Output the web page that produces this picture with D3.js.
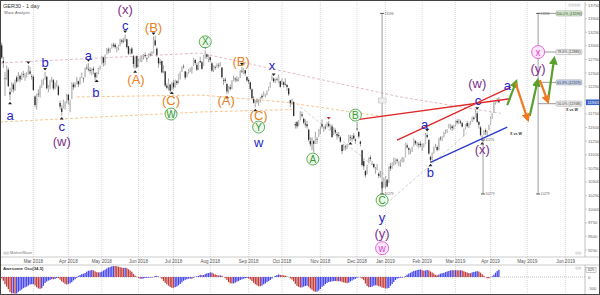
<!DOCTYPE html>
<html>
<head>
<meta charset="utf-8">
<script src="https://cdn.jsdelivr.net/npm/d3@7"></script>
<style>
  body { margin: 0; background: #fff; }
  svg { display: block; font-family: "Liberation Sans", Arial, sans-serif; }
</style>
</head>
<body>
<svg id="chart" width="600" height="295"></svg>
<script>
// GER30 daily candles [open, high, low, close], one array per month
var feb18 = [[13190,13240,12970,13004],[13010,13060,12760,12785],[12720,12800,12590,12687],[12400,12520,12080,12392],[12430,12640,12380,12590],[12560,12600,12240,12260],[12150,12230,12000,12107],[12200,12330,12150,12282],[12290,12320,12140,12197],[12190,12380,12170,12339],[12420,12450,12320,12346],[12370,12520,12350,12452],[12450,12470,12330,12385],[12400,12510,12370,12488],[12480,12540,12420,12470],[12430,12500,12360,12461],[12470,12520,12420,12483],[12510,12640,12470,12527],[12530,12620,12470,12490],[12440,12480,12380,12436]];
var mar18 = [[12430,12460,12170,12190],[12070,12090,11870,11913],[11960,12120,11830,12090],[12120,12200,12060,12114],[12100,12270,12050,12245],[12280,12380,12230,12355],[12330,12400,12280,12346],[12400,12520,12380,12418],[12430,12450,12200,12221],[12200,12280,12150,12237],[12250,12380,12200,12345],[12350,12430,12330,12389],[12370,12390,12180,12217],[12230,12330,12200,12307],[12300,12370,12240,12309],[12250,12280,12080,12100],[11950,11990,11830,11886],[11850,11910,11720,11787],[11880,12010,11850,11970],[11890,11980,11830,11940],[11960,12120,11940,12096]];
var apr18 = [[12100,12120,11920,12002],[11900,12010,11780,11957],[12030,12330,12020,12305],[12290,12330,12190,12241],[12270,12330,12230,12261],[12300,12430,12290,12397],[12350,12360,12240,12294],[12310,12430,12290,12415],[12440,12510,12410,12442],[12400,12420,12320,12391],[12430,12600,12420,12586],[12600,12660,12560,12590],[12570,12680,12530,12567],[12560,12610,12490,12540],[12530,12590,12460,12572],[12580,12620,12480,12550],[12500,12520,12330,12422],[12450,12520,12410,12500],[12510,12600,12480,12580],[12590,12640,12560,12612]];
var may18 = [[12680,12820,12660,12802],[12790,12800,12620,12690],[12700,12840,12640,12820],[12850,12960,12840,12949],[12930,12970,12860,12912],[12900,12960,12870,12943],[12970,13040,12950,13022],[13020,13060,12970,13001],[13020,13050,12950,12977],[12960,12990,12880,12970],[12960,13020,12920,12996],[13010,13130,12990,13114],[13100,13130,13040,13077],[13090,13140,13050,13080],[13100,13210,13080,13169],[13120,13130,12950,12977],[12990,13000,12830,12855],[12880,12950,12840,12938],[12950,12980,12840,12863],[12810,12830,12600,12666],[12600,12800,12580,12783],[12810,12820,12590,12605]];
var jun18 = [[12650,12760,12620,12724],[12760,12800,12700,12770],[12760,12820,12700,12787],[12810,12850,12750,12830],[12830,12880,12780,12811],[12770,12790,12700,12766],[12800,12860,12780,12842],[12850,12880,12800,12842],[12850,12900,12820,12890],[12880,13170,12860,13107],[13100,13190,12990,13010],[12950,12970,12800,12834],[12780,12790,12600,12677],[12700,12760,12650,12695],[12720,12730,12490,12512],[12540,12640,12500,12579],[12530,12540,12240,12270],[12270,12310,12200,12229],[12250,12400,12180,12348],[12290,12300,12120,12177],[12200,12340,12190,12306]];
var jul18 = [[12320,12380,12200,12238],[12260,12380,12230,12349],[12350,12370,12280,12317],[12350,12480,12310,12465],[12460,12530,12380,12496],[12530,12620,12520,12610],[12620,12660,12580,12609],[12530,12540,12380,12417],[12450,12520,12420,12492],[12520,12570,12490,12540],[12560,12600,12520,12561],[12550,12620,12490,12600],[12640,12780,12630,12765],[12740,12760,12650,12686],[12650,12690,12540,12561],[12590,12700,12560,12689],[12720,12800,12690,12697],[12700,12720,12560,12579],[12650,12830,12630,12809],[12830,12920,12760,12860],[12840,12860,12760,12799],[12760,12840,12700,12806]];
var aug18 = [[12790,12800,12700,12737],[12680,12700,12520,12546],[12560,12640,12520,12615],[12610,12640,12560,12598],[12620,12680,12600,12648],[12640,12680,12590,12634],[12630,12700,12620,12676],[12600,12610,12400,12424],[12370,12410,12280,12358],[12380,12420,12320,12358],[12300,12310,12110,12163],[12170,12260,12130,12237],[12240,12290,12180,12210],[12220,12370,12200,12358],[12380,12450,12350,12384],[12400,12420,12330,12385],[12380,12440,12340,12365],[12370,12420,12350,12394],[12420,12560,12410,12538],[12540,12610,12500,12527],[12520,12590,12480,12562],[12550,12560,12450,12494],[12430,12440,12340,12364]];
var sep18 = [[12370,12400,12300,12346],[12330,12340,12180,12210],[12200,12220,12020,12040],[12020,12080,11940,11955],[11920,12000,11870,11959],[11990,12040,11940,11987],[11960,12010,11900,11970],[11990,12060,11960,12032],[12080,12120,12020,12055],[12090,12160,12070,12124],[12080,12120,12050,12096],[12110,12180,12090,12157],[12190,12250,12170,12219],[12260,12340,12230,12326],[12380,12460,12360,12431],[12400,12420,12320,12350],[12360,12400,12320,12374],[12390,12420,12350,12385],[12330,12470,12310,12436],[12350,12360,12230,12246]];
var oct18 = [[12300,12400,12280,12346],[12330,12350,12230,12287],[12300,12400,12270,12287],[12280,12300,12180,12244],[12220,12230,12080,12111],[12000,12010,11870,11947],[11970,12030,11920,11977],[11970,11980,11700,11712],[11560,11600,11480,11539],[11600,11620,11480,11523],[11560,11640,11520,11614],[11650,11800,11630,11777],[11740,11790,11680,11715],[11660,11680,11560,11589],[11570,11650,11500,11553],[11560,11620,11480,11524],[11460,11480,11240,11274],[11250,11320,11150,11191],[11130,11320,11080,11307],[11250,11270,11040,11201],[11220,11420,11200,11336],[11290,11330,11200,11287],[11350,11470,11330,11447]];
var nov18 = [[11460,11520,11380,11468],[11560,11650,11480,11519],[11460,11520,11420,11495],[11500,11560,11460,11484],[11520,11600,11500,11579],[11570,11620,11500,11527],[11480,11550,11450,11529],[11520,11560,11310,11325],[11380,11500,11360,11472],[11450,11480,11380,11412],[11380,11420,11280,11353],[11360,11420,11310,11341],[11320,11340,11220,11244],[11180,11190,11010,11066],[11100,11200,11080,11139],[11150,11180,11080,11138],[11120,11200,11100,11192],[11240,11370,11230,11354],[11320,11360,11260,11309],[11300,11360,11240,11299],[11350,11400,11280,11298],[11280,11300,11200,11257]];
var dec18 = [[11480,11600,11440,11465],[11420,11430,11300,11335],[11240,11260,11150,11200],[11080,11090,10780,10811],[10880,10920,10720,10788],[10700,10720,10580,10622],[10650,10820,10640,10780],[10850,10950,10840,10931],[10950,10990,10880,10924],[10840,10880,10810,10865],[10830,10840,10750,10772],[10720,10770,10650,10740],[10740,10830,10720,10766],[10650,10680,10570,10611],[10630,10700,10580,10634],[10500,10510,10280,10382],[10420,10580,10400,10559]];
var jan19 = [[10500,10600,10380,10580],[10540,10560,10400,10416],[10500,10780,10480,10768],[10790,10850,10700,10747],[10760,10860,10740,10804],[10840,10950,10800,10894],[10860,10930,10820,10921],[10910,10930,10840,10887],[10830,10880,10790,10856],[10860,10910,10780,10892],[10880,10960,10860,10931],[10910,10950,10860,10918],[10960,11220,10950,11205],[11170,11210,11110,11136],[11120,11140,11000,11090],[11070,11100,11010,11071],[11100,11150,11050,11130],[11170,11300,11150,11281],[11250,11270,11180,11210],[11200,11240,11150,11218],[11200,11230,11120,11181],[11200,11250,11140,11173]];
var feb19 = [[11120,11210,11070,11180],[11170,11210,11130,11176],[11200,11400,11190,11367],[11360,11400,11300,11324],[11270,11290,11000,11022],[10960,10980,10860,10906],[10940,11040,10900,11014],[11030,11150,11020,11126],[11150,11200,11130,11167],[11140,11170,11060,11089],[11100,11310,11080,11299],[11310,11340,11260,11299],[11300,11340,11250,11309],[11330,11420,11320,11401],[11400,11460,11380,11423],[11430,11470,11400,11457],[11500,11570,11480,11505],[11520,11560,11460,11540],[11520,11550,11440,11487],[11510,11550,11460,11515]];
var mar19 = [[11540,11620,11520,11601],[11620,11650,11560,11592],[11600,11660,11560,11620],[11610,11640,11560,11588],[11580,11600,11500,11517],[11450,11480,11340,11457],[11490,11560,11470,11543],[11580,11620,11500,11524],[11520,11590,11490,11572],[11570,11620,11550,11587],[11620,11700,11600,11686],[11680,11710,11630,11657],[11690,11830,11680,11788],[11760,11800,11580,11603],[11600,11620,11480,11550],[11500,11530,11340,11364],[11310,11360,11260,11346],[11380,11450,11360,11419],[11450,11480,11360,11419],[11380,11440,11330,11428],[11460,11550,11450,11526]];
var apr19 = [[11560,11700,11550,11681],[11690,11770,11660,11754],[11780,11970,11770,11954],[11950,12000,11920,11988],[11990,12040,11960,12010],[12000,12060,11950,11963]];

// median prices of the 33 sessions before the first bar (Awesome Osc warm-up)
var warmupMedian = [13125,13068,13103,13312,13215,13069,13110,13072,13070,12979,12917,12871,12978,13167,13319,13367,13385,13281,13202,13245,13200,13183,13184,13281,13434,13463,13559,13414,13298,13340,13324,13197,13189];

var monthTickLabels = ["Mar 2018","Apr 2018","May 2018","Jun 2018","Jul 2018","Aug 2018","Sep 2018","Oct 2018","Nov 2018","Dec 2018","Jan 2019","Feb 2019","Mar 2019","Apr 2019","May 2019","Jun 2019"];
var futureMonthDays = [22, 23];   // weekdays of Apr 2019 and May 2019
var priceTicks = [9250,9500,9750,10000,10250,10500,10750,11000,11250,11500,11750,12000,12250,12500,12750,13000,13250,13500,13750];

// wave labels: text, bar index, price, style
var waveLabels = [
  ["(x)", 75, 13676, "purple"], ["c", 75, 13382, "blue"], ["(B)", 92, 13346, "orange"],
  ["b", 27, 12702, "blue"], ["a", 53, 12831, "blue"], ["b", 57.5, 12151, "blue"],
  ["(A)", 81.5, 12390, "orange"], ["(C)", 102.5, 12004, "orange"], ["W", 102.5, 11747, "green"],
  ["a", 6, 11728, "blue"], ["c", 37, 11526, "blue"], ["(w)", 37, 11250, "purple"],
  ["X", 123, 13074, "green"], ["(B)", 144.5, 12721, "orange"], ["(A)", 135.5, 12004, "orange"],
  ["x", 163, 12636, "blue"], ["(C)", 155, 11728, "orange"], ["Y", 155, 11508, "green"],
  ["w", 155, 11232, "blue"], ["A", 187.5, 10920, "green"], ["B", 213, 11728, "green"],
  ["C", 229, 10166, "green"], ["y", 229, 9854, "blue"], ["(y)", 229, 9560, "purple"],
  ["w", 229, 9284, "pink"], ["a", 254.5, 11563, "blue"], ["b", 258, 10681, "blue"],
  ["c", 286.5, 12004, "blue"], ["(w)", 286, 12316, "purple"], ["(x)", 289, 11103, "purple"],
  ["a", 304, 12280, "blue"], ["(y)", 322.5, 12592, "purple"], ["x", 322.5, 12886, "pink"]
];
var pivotHighs = [17, 27, 53, 75, 92, 123, 145, 164, 197, 214, 256, 286];
var pivotLows = [6, 37, 58, 81, 103, 136, 153, 188, 210, 229, 258, 289];

// Fibonacci of W: 13596 -> 10279
var fibHigh = 13596, fibLow = 10279;
var fibLevels = [0.5, 0.618, 0.786, 1.0];
// vertical measure lines: index, top price, bottom price
var measureLines = [[229, 13596, 10279], [289.5, 11270, 10279], [322.5, 13596, 10279]];

// channel lines [[index, price], [index, price]]
var redLines = [[[213, 11640], [306, 12030]], [[238, 11270], [306, 12240]]];
var blueLines = [[[258, 10860], [304, 11508]]];
var greenArrows = [[[304, 11912], [309, 12316]], [[317.5, 11710], [322, 12335]], [[328.5, 12004], [332, 12740]]];
var orangeArrows = [[[309, 12316], [316, 11673]], [[323.5, 12372], [328, 12004]]];
// faint dashed guides (averages / old trend lines)
var dashedGuides = [
  [[[0, 12685], [120, 12868], [240, 12060], [300, 11760]], "#d8a8c0"],
  [[[46, 12060], [120, 12097], [170, 11968], [230, 11700]], "#f2b878"],
  [[[0, 11601], [120, 11785], [175, 11830]], "#f2b878"],
  [[[180, 11877], [232, 10591]], "#c4c4c4"],
  [[[234, 10168], [280, 11399]], "#c4c4c4"]
];

var svg = d3.select("#chart");
var x = d3.scaleLinear().domain([0, 350]).range([0, 584]);
var y = d3.scaleLinear().domain([9250, 13750]).range([250, 5]);
var yo = d3.scaleLinear().domain([-500, 0]).range([288, 277]);
var plotRight = 585, mainTop = 2, mainBottom = 257, oscTop = 265;

var colors = { blue: "#2626c4", purple: "#7d2f8c", orange: "#e8801e", green: "#3a9a3a", pink: "#e040d0" };

var bars = [].concat(feb18, mar18, apr18, may18, jun18, jul18, aug18, sep18, oct18, nov18, dec18, jan19, feb19, mar19, apr19);
var pastMonths = [feb18, mar18, apr18, may18, jun18, jul18, aug18, sep18, oct18, nov18, dec18, jan19, feb19, mar19];

// tick positions: first trading day of each month
var tickIndex = [];
var acc = 0;
pastMonths.forEach(function(m) { acc += m.length; tickIndex.push(acc); });
futureMonthDays.forEach(function(n) { acc += n; tickIndex.push(acc); });

var defs = svg.append("defs");
defs.append("clipPath").attr("id", "mainClip")
  .append("rect").attr("x", 0).attr("y", mainTop).attr("width", plotRight).attr("height", mainBottom - mainTop);
[["arrG", "#5aa02c"], ["arrO", "#f07820"]].forEach(function(m) {
  defs.append("marker").attr("id", m[0]).attr("viewBox", "0 0 10 10")
    .attr("refX", 5).attr("refY", 5).attr("markerWidth", 4).attr("markerHeight", 4).attr("orient", "auto")
    .append("path").attr("d", "M0,0L10,5L0,10z").attr("fill", m[1]);
});

// month grid
svg.append("g").selectAll("line").data(tickIndex).join("line")
  .attr("x1", function(d) { return x(d); }).attr("x2", function(d) { return x(d); })
  .attr("y1", mainTop).attr("y2", 295)
  .attr("stroke", "#c8c8c8").attr("stroke-width", 0.7).attr("stroke-dasharray", "1,1");

// dashed guides
var line = d3.line().x(function(p) { return x(p[0]); }).y(function(p) { return y(p[1]); });
svg.append("g").attr("clip-path", "url(#mainClip)").selectAll("path").data(dashedGuides).join("path")
  .attr("d", function(d) { return line(d[0]); }).attr("fill", "none")
  .attr("stroke", function(d) { return d[1]; }).attr("stroke-width", 0.8).attr("stroke-dasharray", "3,2");

// candles
var cg = svg.append("g").attr("clip-path", "url(#mainClip)");
cg.selectAll("line.wick").data(bars).join("line").attr("class", "wick")
  .attr("x1", function(d, i) { return x(i); }).attr("x2", function(d, i) { return x(i); })
  .attr("y1", function(d) { return y(d[1]); }).attr("y2", function(d) { return y(d[2]); })
  .attr("stroke", "#666").attr("stroke-width", 0.6);
cg.selectAll("rect.body").data(bars).join("rect").attr("class", "body")
  .attr("x", function(d, i) { return x(i) - 0.65; }).attr("width", 1.3)
  .attr("y", function(d) { return y(Math.max(d[0], d[3])); })
  .attr("height", function(d) { return Math.max(0.6, Math.abs(y(d[0]) - y(d[3]))); })
  .attr("fill", function(d) { return d[3] >= d[0] ? "#c4c4c4" : "#2a2a2a"; });

// pivot markers
cg.selectAll("path.ph").data(pivotHighs).join("path").attr("class", "ph")
  .attr("d", function(i) { var px = x(i), py = y(bars[i][1]) - 1.5; return "M" + (px - 2) + "," + (py - 2.5) + "L" + (px + 2) + "," + (py - 2.5) + "L" + px + "," + py + "Z"; })
  .attr("fill", function(i) { return i === 197 ? "#c03030" : "#222"; });
cg.selectAll("path.pl").data(pivotLows).join("path").attr("class", "pl")
  .attr("d", function(i) { var px = x(i), py = y(bars[i][2]) + 1.5; return "M" + (px - 2) + "," + (py + 2.5) + "L" + (px + 2) + "," + (py + 2.5) + "L" + px + "," + py + "Z"; })
  .attr("fill", "#222");

// measure lines with end ticks
var mg = svg.append("g");
measureLines.forEach(function(m) {
  var px = x(m[0]);
  mg.append("line").attr("x1", px).attr("x2", px).attr("y1", y(m[1])).attr("y2", y(m[2]))
    .attr("stroke", "#777").attr("stroke-width", 0.7);
  [m[1], m[2]].forEach(function(p) {
    mg.append("line").attr("x1", px - 2).attr("x2", px + 2).attr("y1", y(p)).attr("y2", y(p))
      .attr("stroke", "#333").attr("stroke-width", 0.8);
    mg.append("text").attr("x", px + 2.5).attr("y", y(p) + 1.3).attr("font-size", 3.2)
      .attr("fill", "#666").text(p);
  });
});
mg.append("rect").attr("x", x(229) - 4).attr("y", 98).attr("width", 8).attr("height", 5)
  .attr("fill", "#eee").attr("stroke", "#aaa").attr("stroke-width", 0.4);

// fib levels
var fg = svg.append("g");
fibLevels.forEach(function(f) {
  var p = fibLow + f * (fibHigh - fibLow);
  var py = y(p);
  fg.append("line").attr("x1", x(322.5)).attr("x2", 556).attr("y1", py).attr("y2", py)
    .attr("stroke", "#555").attr("stroke-width", 0.6);
  var fill = f === 1 ? "#d8f0d0" : (f === 0.618 ? "#c8d4f0" : "#f0f0f0");
  fg.append("rect").attr("x", 556).attr("y", py - 2.6).attr("width", 26).attr("height", 5.2)
    .attr("rx", 1.5).attr("fill", fill).attr("stroke", "#888").attr("stroke-width", 0.4);
  fg.append("text").attr("x", 569).attr("y", py + 1.3).attr("text-anchor", "middle")
    .attr("font-size", 3.6).attr("fill", "#333")
    .text((f * 100).toFixed(1) + "% (" + Math.round(p) + ")");
});
fg.append("text").attr("x", 566).attr("y", y(fibLow + 0.5 * (fibHigh - fibLow)) + 7).attr("font-size", 3.6)
  .attr("font-weight", "bold").attr("fill", "#333").text("X vs W");
fg.append("text").attr("x", 510).attr("y", 135).attr("font-size", 3.6)
  .attr("font-weight", "bold").attr("fill", "#333").text("X vs W");

// channel lines
function seg(sel) {
  return sel.attr("x1", function(d) { return x(d[0][0]); }).attr("y1", function(d) { return y(d[0][1]); })
    .attr("x2", function(d) { return x(d[1][0]); }).attr("y2", function(d) { return y(d[1][1]); });
}
seg(svg.append("g").selectAll("line").data(redLines).join("line")).attr("stroke", "#e02828").attr("stroke-width", 1.4);
seg(svg.append("g").selectAll("line").data(blueLines).join("line")).attr("stroke", "#2b3bd0").attr("stroke-width", 1.4);
seg(svg.append("g").selectAll("line").data(greenArrows).join("line"))
  .attr("stroke", "#5aa02c").attr("stroke-width", 2.2).attr("marker-end", "url(#arrG)");
seg(svg.append("g").selectAll("line").data(orangeArrows).join("line"))
  .attr("stroke", "#f07820").attr("stroke-width", 2.2).attr("marker-end", "url(#arrO)");

// wave labels
var lg = svg.append("g");
waveLabels.forEach(function(w) {
  var px = x(w[1]), py = y(w[2]), st = w[3];
  if (st === "green" || st === "pink") {
    lg.append("circle").attr("cx", px).attr("cy", py).attr("r", st === "pink" ? 6.5 : 6)
      .attr("fill", st === "pink" ? "#fbe8fb" : "#eef8ea").attr("stroke", colors[st]).attr("stroke-width", 0.8);
  }
  lg.append("text").attr("x", px).attr("y", py).attr("dy", "0.36em").attr("text-anchor", "middle")
    .attr("font-size", (st === "green" || st === "pink") ? 10 : 13)
    .attr("fill", colors[st]).text(w[0]);
});

// price axis
var last = bars[bars.length - 1][3];
svg.append("line").attr("x1", plotRight).attr("x2", plotRight).attr("y1", mainTop).attr("y2", mainBottom)
  .attr("stroke", "#999").attr("stroke-width", 0.6);
var shownTicks = priceTicks.filter(function(d) { return Math.abs(y(d) - y(last)) > 6; });
var ya = svg.append("g");
ya.selectAll("line").data(priceTicks).join("line")
  .attr("x1", plotRight).attr("x2", plotRight + 2)
  .attr("y1", function(d) { return y(d); }).attr("y2", function(d) { return y(d); })
  .attr("stroke", "#999").attr("stroke-width", 0.5);
ya.selectAll("text").data(shownTicks).join("text")
  .attr("x", plotRight + 3).attr("y", function(d) { return y(d) + 1.5; })
  .attr("font-size", 4.2).attr("fill", "#666").text(function(d) { return d; });
svg.append("rect").attr("x", plotRight + 1).attr("y", y(last) - 2.8).attr("width", 13).attr("height", 5.6)
  .attr("fill", "#3a62c8");
svg.append("text").attr("x", plotRight + 2.5).attr("y", y(last) + 1.5).attr("font-size", 4.2)
  .attr("fill", "#fff").text(last);

// date axis band
svg.append("line").attr("x1", 0).attr("x2", 600).attr("y1", mainBottom).attr("y2", mainBottom).attr("stroke", "#aaa").attr("stroke-width", 0.6);
svg.append("line").attr("x1", 0).attr("x2", 600).attr("y1", oscTop).attr("y2", oscTop).attr("stroke", "#aaa").attr("stroke-width", 0.6);
svg.append("g").selectAll("text").data(tickIndex).join("text")
  .attr("x", function(d) { return x(d); }).attr("y", 263).attr("text-anchor", "middle")
  .attr("font-size", 4.6).attr("fill", "#555")
  .text(function(d, i) { return monthTickLabels[i]; });

// Awesome oscillator (34,5) of median price
var med = warmupMedian.concat(bars.map(function(d) { return (d[1] + d[2]) / 2; }));
var off = warmupMedian.length;
var ao = bars.map(function(d, i) {
  var j = i + off;
  return d3.mean(med.slice(j - 4, j + 1)) - d3.mean(med.slice(j - 33, j + 1));
});
svg.append("line").attr("x1", 0).attr("x2", plotRight).attr("y1", yo(0)).attr("y2", yo(0))
  .attr("stroke", "#999").attr("stroke-width", 0.6).attr("stroke-dasharray", "1,1");
svg.append("g").selectAll("rect").data(ao).join("rect")
  .attr("x", function(d, i) { return x(i) - 0.65; }).attr("width", 1.3)
  .attr("y", function(d) { return Math.max(oscTop + 1, Math.min(yo(d), yo(0))); })
  .attr("height", function(d) { return Math.abs(Math.max(oscTop + 1, yo(d)) - yo(0)); })
  .attr("fill", function(d, i) { return i > 0 && d > ao[i - 1] ? "#4848f0" : "#c04040"; });
svg.append("line").attr("x1", plotRight).attr("x2", plotRight).attr("y1", oscTop).attr("y2", 295)
  .attr("stroke", "#999").attr("stroke-width", 0.6);
var oscTicks = [0, -500];
svg.append("g").selectAll("text").data(oscTicks).join("text")
  .attr("x", plotRight + 3).attr("y", function(d) { return yo(d) + 1.5; })
  .attr("font-size", 4.2).attr("fill", "#666").text(function(d) { return d; });
var lastAo = Math.round(ao[ao.length - 1]);
svg.append("rect").attr("x", plotRight + 1).attr("y", yo(lastAo) - 2.5).attr("width", 10).attr("height", 5)
  .attr("fill", "#fff").attr("stroke", "#777").attr("stroke-width", 0.4);
svg.append("text").attr("x", plotRight + 2.5).attr("y", yo(lastAo) + 1.4).attr("font-size", 4).attr("fill", "#333").text(lastAo);

// captions and panel icons
svg.append("text").attr("x", 3).attr("y", 8).attr("font-size", 5.5).attr("fill", "#333").text("GER30 - 1 day");
svg.append("text").attr("x", 4).attr("y", 14).attr("font-size", 4).attr("fill", "#666").text("Wave Analysis");
svg.append("text").attr("x", 3).attr("y", 254).attr("font-size", 4).attr("fill", "#777").text("◎◎ MotiveWave");
svg.append("text").attr("x", 3).attr("y", 270).attr("font-size", 4.3).attr("font-weight", "bold").attr("fill", "#333").text("Awesome Osc(34,5)");
svg.append("text").attr("x", 568).attr("y", 6).attr("font-size", 4).attr("fill", "#999").text("◎◎◎◎");
svg.append("text").attr("x", 575).attr("y", 254).attr("font-size", 4).attr("fill", "#999").text("◎◎");
svg.append("text").attr("x", 575).attr("y", 269).attr("font-size", 4).attr("fill", "#999").text("◎◎");

// outer frame
svg.append("rect").attr("x", 0.5).attr("y", 0.5).attr("width", 599).attr("height", 294)
  .attr("fill", "none").attr("stroke", "#444").attr("stroke-width", 1);
</script>
</body>
</html>
